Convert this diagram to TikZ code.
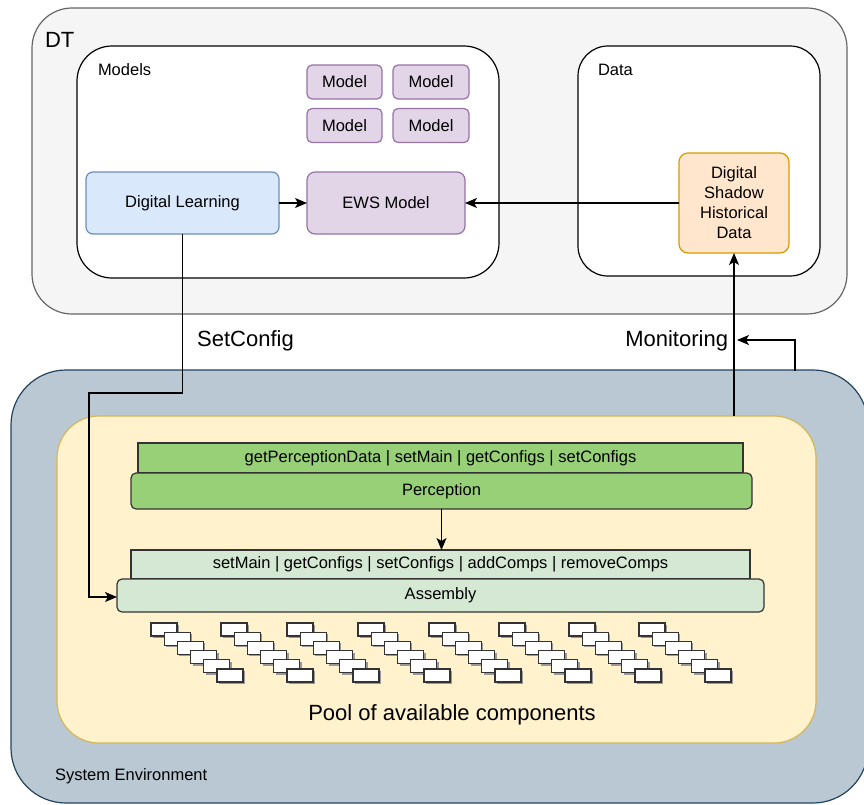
\documentclass[tikz,border=0pt]{standalone}
\usepackage{fontspec}
\setmainfont{Liberation Sans}
\usetikzlibrary{arrows.meta,calc}
\definecolor{dtfill}{HTML}{F5F5F5}
\definecolor{dtline}{HTML}{666666}
\definecolor{mfill}{HTML}{E1D5E7}
\definecolor{mline}{HTML}{9673A6}
\definecolor{bfill}{HTML}{DAE8FC}
\definecolor{bline}{HTML}{6C8EBF}
\definecolor{ofill}{HTML}{FFE6CC}
\definecolor{oline}{HTML}{D79B00}
\definecolor{sfill}{HTML}{BAC8D3}
\definecolor{sline}{HTML}{23445D}
\definecolor{yfill}{HTML}{FFF2CC}
\definecolor{yline}{HTML}{D6B656}
\definecolor{gfill}{HTML}{97D077}
\definecolor{lgfill}{HTML}{D5E8D4}
\definecolor{dline}{HTML}{333333}
\begin{document}
\begin{tikzpicture}[x=1pt,y=-1pt,
  every node/.style={inner sep=0pt,outer sep=0pt,font=\fontsize{16.5}{20}\selectfont},
  container/.style={draw,line width=1.2pt,rectangle},
  modelbox/.style={draw=mline,fill=mfill,line width=1.2pt,rounded corners=5pt,rectangle},
  bluebox/.style={draw=bline,fill=bfill,line width=1.2pt,rounded corners=7pt,rectangle},
  orangebox/.style={draw=oline,fill=ofill,line width=1.2pt,rounded corners=9pt,rectangle,align=center},
  header/.style={draw=dline,line width=1.2pt,rectangle},
  bodybox/.style={draw=dline,line width=1.2pt,rectangle,rounded corners=5pt},
  conn/.style={draw=black,line width=1.2pt},
  arr/.style={conn,-{Stealth[length=12pt,width=10pt,inset=3pt]}},
  big/.style={font=\fontsize{22}{26}\selectfont},
  comp/.style={draw=dline,fill=white,line width=1.1pt},
  compshadow/.style={fill=black!40,draw=none}
]
\useasboundingbox (0,0) rectangle (864,804);

% DT container
\node[container,draw=dtline,fill=dtfill,rounded corners=40pt,minimum width=815pt,minimum height=306pt] (dt) at (439.5,161) {};
\node[big,anchor=west] (dtlabel) at (45,40) {DT};

% Models container
\node[container,draw=black,fill=white,rounded corners=35pt,minimum width=422pt,minimum height=232pt] (models) at (288,162) {};
\node[anchor=west] (modelslabel) at (98,70) {Models};

% Data container
\node[container,draw=black,fill=white,rounded corners=30pt,minimum width=242pt,minimum height=230pt] (data) at (699,161) {};
\node[anchor=west] (datalabel) at (598,70) {Data};

% Model boxes
\node[modelbox,minimum width=75pt,minimum height=34pt] (m1) at (344.5,82) {Model};
\node[modelbox,minimum width=76pt,minimum height=34pt] (m2) at (431,82) {Model};
\node[modelbox,minimum width=75pt,minimum height=34pt] (m3) at (344.5,125.5) {Model};
\node[modelbox,minimum width=76pt,minimum height=34pt] (m4) at (431,125.5) {Model};

% Digital Learning, EWS, Digital Shadow
\node[bluebox,minimum width=193pt,minimum height=62pt] (dl) at (182.5,203) {Digital Learning};
\node[modelbox,rounded corners=8pt,minimum width=158pt,minimum height=62pt] (ews) at (386,203) {EWS Model};
\node[orangebox,minimum width=110pt,minimum height=100pt,font=\fontsize{16.5}{20}\selectfont] (ds) at (734,203) {Digital\\Shadow\\Historical\\Data};

\draw[arr] (dl.east) -- (ews.west);
\draw[arr] (ds.west) -- (ews.east);

% System environment
\node[container,draw=sline,fill=sfill,rounded corners=55pt,minimum width=857pt,minimum height=433pt] (sys) at (439.5,586.5) {};
\node[anchor=west] (syslabel) at (55,776) {System Environment};

% Yellow pool
\node[container,draw=yline,fill=yfill,rounded corners=42pt,minimum width=759pt,minimum height=327pt] (pool) at (436.5,579.5) {};
\node[big] (poollabel) at (452,715) {Pool of available components};

% Perception
\node[header,fill=gfill,minimum width=605pt,minimum height=30pt] (perch) at (440.5,458) {getPerceptionData | setMain | getConfigs | setConfigs};
\node[bodybox,fill=gfill,minimum width=621pt,minimum height=36pt] (perc) at (441.5,491) {Perception};

% Assembly
\node[header,fill=lgfill,minimum width=619pt,minimum height=29pt] (assh) at (440.5,564.5) {setMain | getConfigs | setConfigs | addComps | removeComps};
\node[bodybox,fill=lgfill,minimum width=647pt,minimum height=33pt] (ass) at (440.5,595.5) {Assembly};

\draw[arr] (perc.south) -- (perc.south |- assh.north);

% Components
\foreach \sx in {151,221,287,358,429,499,569,639}{
  \foreach \j in {0,...,5}{
    \pgfmathsetmacro{\cx}{\sx+13.2*\j}
    \pgfmathsetmacro{\cy}{623+9.2*\j}
    \fill[compshadow] (\cx+2,\cy+2) rectangle ++(26,13);
    \draw[comp] (\cx,\cy) rectangle ++(26,13);
  }
}

% SetConfig connector
\coordinate (sc1) at ($(dl.south)+(0,159)$);
\coordinate (sc2) at (89,393);
\coordinate (sc3) at (89,597);
\draw[arr] (dl.south) -- (sc1) -- (sc2) -- (sc3) -- (sc3 -| ass.west);
\node[big] (setcfg) at (245.5,341) {SetConfig};

% Monitoring connectors
\coordinate (mon0) at (ds.south |- pool.north);
\draw[arr] (mon0) -- (ds.south);
\coordinate (mon1) at (795,370.5);
\coordinate (mon2) at (795,340);
\coordinate (mon3) at (737,340);
\draw[arr] (mon1) -- (mon2) -- (mon3);
\node[big,anchor=east] (monlabel) at (728,341) {Monitoring};
\end{tikzpicture}
\end{document}
